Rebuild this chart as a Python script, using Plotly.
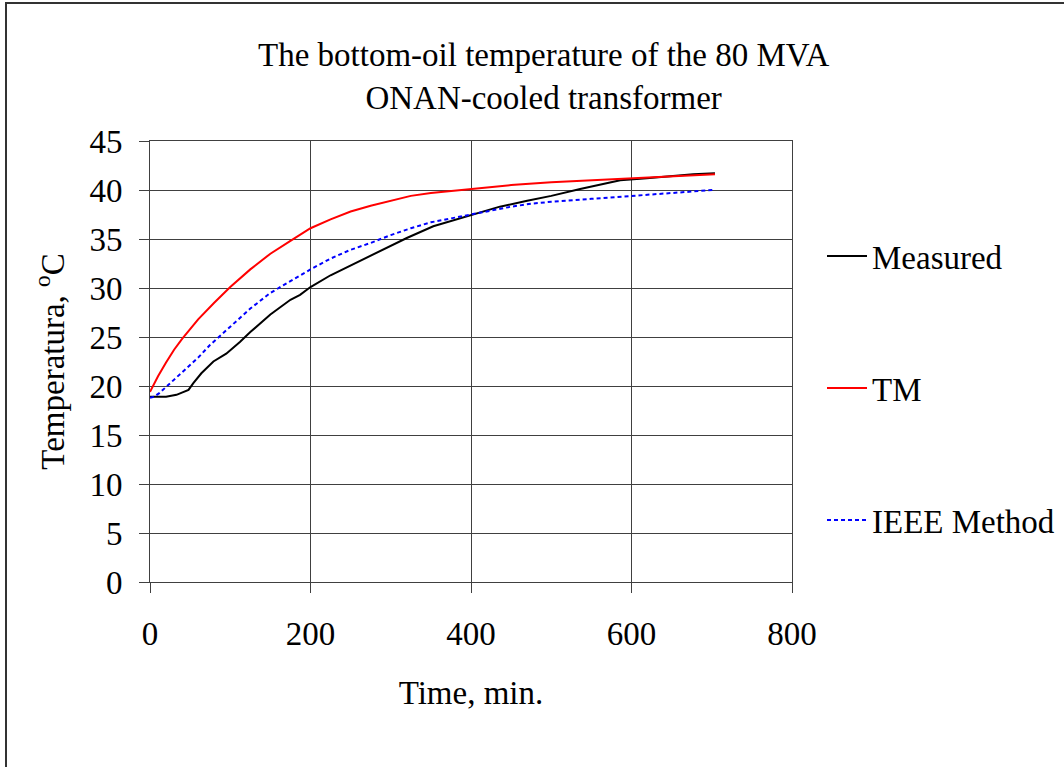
import plotly.graph_objects as go

# ---- data ----
t_measured = [0, 10, 20, 33, 40, 48, 54, 64, 79, 95, 112, 125, 150, 175, 187, 200, 225, 250, 270, 300,
              320, 353, 386, 400, 436, 470, 500, 536, 560, 586, 619, 644, 677, 704]
T_measured = [18.9, 18.9, 18.9, 19.1, 19.3, 19.6, 20.3, 21.3, 22.5, 23.3, 24.5, 25.5, 27.3, 28.8, 29.3, 30.1,
              31.3, 32.3, 33.1, 34.3, 35.1, 36.3, 37.1, 37.5, 38.3, 38.9, 39.4, 40.1, 40.5, 41.0, 41.2, 41.4,
              41.6, 41.7]

t_tm = [0, 10, 20, 30, 40, 50, 60, 80, 100, 125, 150, 175, 200, 225, 250, 275, 300, 325, 350, 375,
        400, 450, 500, 550, 600, 650, 704]
T_tm = [19.4, 21.0, 22.4, 23.7, 24.8, 25.8, 26.8, 28.5, 30.1, 31.9, 33.5, 34.8, 36.1, 37.0, 37.8, 38.4,
        38.9, 39.4, 39.7, 39.9, 40.1, 40.5, 40.8, 41.0, 41.2, 41.4, 41.6]

t_ieee = [0, 5, 12, 20, 30, 40, 50, 60, 75, 90, 100, 125, 150, 175, 200, 225, 250, 275, 300, 325, 350,
          375, 400, 425, 450, 475, 500, 550, 600, 650, 702]
T_ieee = [18.8, 18.9, 19.3, 19.9, 20.7, 21.4, 22.1, 22.9, 24.2, 25.3, 26.0, 27.9, 29.5, 30.7, 31.9, 33.0,
          33.9, 34.6, 35.4, 36.1, 36.7, 37.1, 37.5, 37.9, 38.3, 38.6, 38.8, 39.1, 39.4, 39.7, 40.0]

x_ticks = [0, 200, 400, 600, 800]
y_ticks = [0, 5, 10, 15, 20, 25, 30, 35, 40, 45]

FONT = "Liberation Serif, Times New Roman, serif"
FS = 33

fig = go.Figure()
fig.add_trace(go.Scatter(x=t_measured, y=T_measured, mode="lines", name="Measured",
                         line=dict(color="black", width=2), legend="legend"))
fig.add_trace(go.Scatter(x=t_tm, y=T_tm, mode="lines", name="TM",
                         line=dict(color="#ff0000", width=2), legend="legend2"))
fig.add_trace(go.Scatter(x=t_ieee, y=T_ieee, mode="lines", name="IEEE Method",
                         line=dict(color="#0000ff", width=2, dash="4px,3px"), legend="legend3"))

W, H = 1064, 767
L, R, T, B = 150, 792, 141, 582
pw, ph = R - L, B - T

def px_to_paper_x(px):
    return (px - L) / pw

def px_to_paper_y(py):
    return (B - py) / ph

legend_common = dict(font=dict(family=FONT, size=FS, color="black"), bgcolor="rgba(0,0,0,0)",
                     borderwidth=0, xanchor="left", yanchor="middle", itemwidth=40)

fig.update_layout(
    width=W, height=H,
    margin=dict(l=L, r=W - R, t=T, b=H - B, pad=0, autoexpand=False),
    paper_bgcolor="white", plot_bgcolor="white",
    font=dict(family=FONT, size=FS, color="black"),
    showlegend=True,
    legend=dict(x=px_to_paper_x(822), y=px_to_paper_y(256), **legend_common),
    legend2=dict(x=px_to_paper_x(822), y=px_to_paper_y(388), **legend_common),
    legend3=dict(x=px_to_paper_x(822), y=px_to_paper_y(520), **legend_common),
    xaxis=dict(range=[0, 800], tickvals=x_ticks, ticktext=[str(v) for v in x_ticks],
               showgrid=True, gridcolor="#404040", gridwidth=1,
               showline=True, linecolor="#404040", linewidth=1, mirror=True,
               ticks="outside", ticklen=10, tickcolor="#404040", tickwidth=1,
               ticklabelstandoff=12, zeroline=False,
               tickfont=dict(family=FONT, size=FS, color="black"),
               title=dict(text="Time, min.", font=dict(family=FONT, size=FS, color="black"), standoff=30)),
    yaxis=dict(range=[0, 45], tickvals=y_ticks, ticktext=[str(v) for v in y_ticks],
               showgrid=True, gridcolor="#404040", gridwidth=1,
               showline=True, linecolor="#404040", linewidth=1, mirror=True,
               ticks="outside", ticklen=10, tickcolor="#404040", tickwidth=1,
               ticklabelstandoff=10, zeroline=False,
               tickfont=dict(family=FONT, size=FS, color="black"),
               title=dict(text="Temperatura, <sup>o</sup>C", font=dict(family=FONT, size=FS, color="black"),
                          standoff=14)),
    annotations=[dict(text="The bottom-oil temperature of the 80 MVA<br>ONAN-cooled transformer",
                      xref="paper", yref="paper", x=px_to_paper_x(543), y=px_to_paper_y(77),
                      xanchor="center", yanchor="middle", showarrow=False,
                      font=dict(family=FONT, size=FS, color="black"))],
    shapes=[dict(type="rect", xref="paper", yref="paper",
                 x0=px_to_paper_x(6), x1=px_to_paper_x(1200),
                 y0=px_to_paper_y(900), y1=px_to_paper_y(3),
                 line=dict(color="#333333", width=2), fillcolor="rgba(0,0,0,0)", layer="below")],
)

fig.write_html("out.html")
